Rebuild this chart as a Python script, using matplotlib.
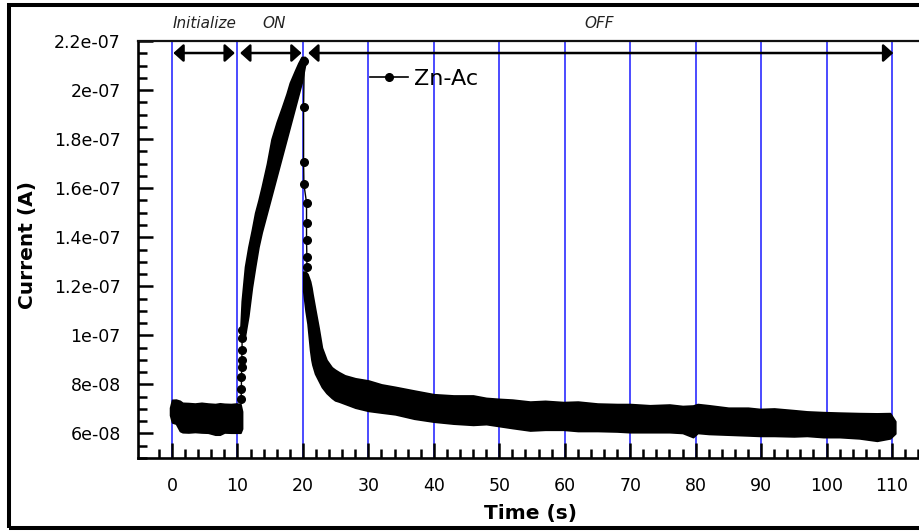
import matplotlib
matplotlib.use("Agg")
import numpy as np
import matplotlib.pyplot as plt
import matplotlib.transforms as mtransforms
from matplotlib.lines import Line2D
from matplotlib.patches import Rectangle
from matplotlib.ticker import FixedLocator, MultipleLocator

# ---------------- data (current in units of 1e-8 A) ----------------
UNIT = 1e-8
series_name = "Zn-Ac"

# Initialize phase: dense noisy band (upper / lower envelope of the point cloud)
init_t = [-0.3, 0.0, 0.6, 1.2, 1.6, 2.5, 3.5, 4.5, 5.5, 6.6, 7.3, 8.0, 9.0, 9.8, 10.45, 10.7]
init_hi = [7.05, 7.37, 7.38, 7.33, 7.25, 7.24, 7.22, 7.25, 7.22, 7.20, 7.23, 7.21, 7.20, 7.22, 7.20, 6.90]
init_lo = [6.75, 6.45, 6.40, 6.10, 6.05, 6.04, 6.06, 6.04, 6.03, 5.95, 5.95, 6.04, 6.03, 6.03, 6.03, 6.20]

# first points of the ON phase (sparse)
rise_pts_t = [10.55, 10.6, 10.6, 10.65, 10.65, 10.7, 10.7, 10.75]
rise_pts_v = [7.4, 7.8, 8.3, 8.7, 9.0, 9.4, 9.9, 10.2]

# ON phase: dense band
on_t = [10.45, 10.65, 11.15, 11.66, 12.2, 12.7, 13.2, 13.7, 14.5, 15.2, 16.0, 16.8, 17.5,
        18.0, 18.8, 19.3, 19.8, 20.3, 20.6]
on_hi = [10.3, 11.4, 12.8, 13.6, 14.3, 15.0, 15.5, 16.05, 17.0, 18.0, 18.7, 19.3, 19.85,
         20.3, 20.8, 21.1, 21.35, 21.35, 21.2]
on_lo = [10.0, 10.0, 10.0, 10.8, 11.95, 12.8, 13.6, 14.2, 15.0, 15.7, 16.5, 17.3, 18.0,
         18.5, 19.3, 19.8, 20.3, 21.0, 21.2]

# switching OFF: sparse points falling along t = 20 s
drop_t = [20.2, 20.1, 20.1, 20.15, 20.55, 20.55, 20.55, 20.6, 20.6]
drop_v = [21.2, 19.3, 17.07, 16.16, 15.4, 14.6, 13.88, 13.2, 12.8]

# OFF phase: dense decaying band
off_t = [20.05, 20.4, 20.7, 21.1, 21.3, 21.45, 21.85, 22.4, 22.9, 23.6, 24.4, 24.9, 25.5,
         26.4, 28, 30, 32, 34.1, 37, 40, 43, 46, 48, 50, 52, 54.7, 57, 59.8, 62, 65, 68,
         70, 73, 76, 78, 79.6, 80.3, 82, 85, 88, 89.8, 92, 95, 97, 99.5, 102, 105, 107.7,
         109.7, 110.5]
off_hi = [12.6, 12.6, 12.5, 12.2, 11.95, 11.7, 11.1, 10.3, 9.5, 9.0, 8.7, 8.6, 8.5,
          8.37, 8.25, 8.16, 8.0, 7.9, 7.75, 7.6, 7.55, 7.55, 7.45, 7.41, 7.38, 7.3, 7.33,
          7.28, 7.3, 7.22, 7.2, 7.2, 7.15, 7.18, 7.12, 7.14, 7.2, 7.15, 7.05, 7.05, 7.0,
          7.02, 6.95, 6.9, 6.87, 6.85, 6.83, 6.82, 6.83, 6.5]
off_lo = [11.8, 11.0, 10.48, 9.39, 9.0, 8.8, 8.44, 8.15, 7.89, 7.65, 7.45, 7.35, 7.3,
          7.21, 7.05, 6.92, 6.85, 6.78, 6.6, 6.48, 6.4, 6.35, 6.38, 6.3, 6.22, 6.12, 6.15,
          6.15, 6.1, 6.1, 6.08, 6.05, 6.05, 6.05, 6.02, 5.85, 6.02, 5.98, 5.95, 5.92, 5.9,
          5.9, 5.88, 5.9, 5.85, 5.85, 5.8, 5.7, 5.8, 6.0]

# phases (start, end) in seconds and their labels
phase_names = ["Initialize", "ON", "OFF"]
phase_spans = [(0.2, 9.6), (10.4, 19.8), (20.8, 110.2)]
phase_label_x = [5.0, 15.6, 65.3]

x_ticks = [0, 10, 20, 30, 40, 50, 60, 70, 80, 90, 100, 110]
y_ticks = [6e-08, 8e-08, 1e-07, 1.2e-07, 1.4e-07, 1.6e-07, 1.8e-07, 2e-07, 2.2e-07]
y_tick_labels = ["6e-08", "8e-08", "1e-07", "1.2e-07", "1.4e-07", "1.6e-07", "1.8e-07",
                 "2e-07", "2.2e-07"]

# ---------------- figure ----------------
W, H = 919, 531
fig = plt.figure(figsize=(W / 100, H / 100), dpi=100)
fig.patch.set_facecolor("white")
ax = fig.add_axes([138 / W, 73 / H, 793.6 / W, 417 / H])
ax.set_xlim(-5.2, 116.05)
ax.set_ylim(5e-08, 2.2e-07)


def sc(v):
    return np.asarray(v) * UNIT


band_kw = dict(color="black", lw=1.2, zorder=3)
ax.fill_between(init_t, sc(init_lo), sc(init_hi), **band_kw)
ax.fill_between(on_t, sc(on_lo), sc(on_hi), **band_kw)
ax.fill_between(off_t, sc(off_lo), sc(off_hi), **band_kw)
ax.plot(rise_pts_t, sc(rise_pts_v), "-o", color="black", ms=5.5, lw=1.0, zorder=4)
ax.plot(drop_t, sc(drop_v), "-o", color="black", ms=5.5, lw=1.0, zorder=4)

# vertical blue grid
ax.xaxis.set_major_locator(FixedLocator(x_ticks))
ax.set_xticklabels([str(v) for v in x_ticks])
ax.xaxis.set_minor_locator(FixedLocator([v for v in np.arange(-2, 115, 2) if v % 10 != 0]))
ax.xaxis.grid(True, which="major", color="#3d3dff", lw=1.3, zorder=1)
ax.set_axisbelow(True)

ax.yaxis.set_major_locator(FixedLocator(y_ticks))
ax.set_yticklabels(y_tick_labels)
ax.yaxis.set_minor_locator(MultipleLocator(5e-09))

ax.tick_params(axis="both", which="major", direction="in", length=11, width=1.8,
               labelsize=12.5, colors="black")
ax.tick_params(axis="both", which="minor", direction="in", length=6.5, width=1.8)
ax.tick_params(axis="x", which="major", pad=14)
ax.tick_params(axis="y", which="major", pad=12.5)
ax.tick_params(top=False, right=False, which="both")

for side in ("left", "bottom"):
    ax.spines[side].set_linewidth(1.9)
ax.spines["top"].set_linewidth(1.6)
ax.spines["top"].set_color("#111111")
ax.spines["right"].set_visible(False)

ax.set_xlabel("Time (s)", fontsize=14.5, fontweight="bold")
ax.xaxis.label.set_va("center")
ax.xaxis.set_label_coords((530 - 138) / 793.6, (458 - 513) / 417)
ax.set_ylabel("Current (A)", fontsize=14.5, fontweight="bold")
ax.yaxis.label.set_va("center")
ax.yaxis.set_label_coords((27 - 138) / 793.6, (458 - 245) / 417)

# phase arrows and labels
arrow_y = 2.151e-07
for (a, b) in phase_spans:
    ax.annotate("", xy=(b, arrow_y), xytext=(a, arrow_y),
                arrowprops=dict(arrowstyle="<|-|>,head_length=0.5,head_width=0.45",
                                mutation_scale=12, lw=1.8, color="black",
                                shrinkA=0, shrinkB=0), zorder=5)
trans = mtransforms.blended_transform_factory(ax.transData, fig.transFigure)
for name, xpos in zip(phase_names, phase_label_x):
    ax.text(xpos, 1 - 23 / H, name, transform=trans, style="italic", ha="center",
            va="center", fontsize=11, color="#222222", clip_on=False)

# legend
handle = Line2D([], [], color="black", marker="o", ms=5.5, lw=1.2)
ax.legend([handle], [series_name], loc="center left",
          bbox_to_anchor=(370 / W, 1 - 79 / H), bbox_transform=fig.transFigure,
          frameon=False, fontsize=16, handlelength=1.7, handletextpad=0.3,
          borderpad=0, borderaxespad=0)

# outer frame of the figure
fig.patches.append(Rectangle((9 / W, 1 - 527.5 / H), 1.2, (527.5 - 4.5) / H,
                             transform=fig.transFigure, fill=False, lw=2.9,
                             ec="black", zorder=10))

fig.savefig("out.png", dpi=100)
